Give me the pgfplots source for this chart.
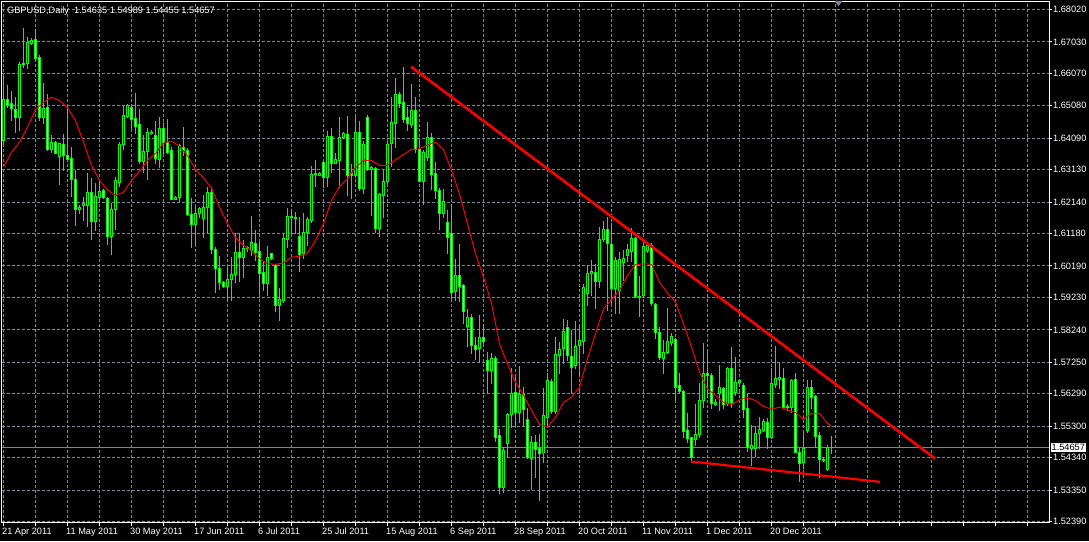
\documentclass[border=0pt]{standalone}
\usepackage{fontspec}
\setmainfont{Liberation Sans}
\usepackage{pgfplots}
\usepackage{pgfplotstable}
\pgfplotsset{compat=1.18}
\definecolor{mtlime}{HTML}{00FF00}
\definecolor{mtgrid}{HTML}{778899}
\definecolor{mtred}{HTML}{FF0000}
\newcommand{\mtfont}{\fontsize{9.2}{11}\selectfont}

% i open high low close
\pgfplotstableread{
i o h l c
0 1.6402 1.6598 1.6384 1.6527
1 1.6526 1.6570 1.6502 1.6509
2 1.6514 1.6552 1.6463 1.6499
3 1.6496 1.6534 1.6427 1.6473
4 1.6473 1.6641 1.6433 1.6634
5 1.6634 1.6743 1.6626 1.6637
6 1.6636 1.6718 1.6621 1.6702
7 1.6699 1.6713 1.6695 1.6707
8 1.6711 1.6740 1.6646 1.6652
9 1.6655 1.6662 1.6463 1.6471
10 1.6471 1.6575 1.6453 1.6499
11 1.6502 1.6543 1.6372 1.6374
12 1.6374 1.6417 1.6366 1.6395
13 1.6395 1.6400 1.6362 1.6363
14 1.6354 1.6394 1.6267 1.6392
15 1.6390 1.6420 1.6311 1.6356
16 1.6355 1.6501 1.6343 1.6345
17 1.6347 1.6382 1.6232 1.6282
18 1.6282 1.6311 1.6144 1.6191
19 1.6191 1.6204 1.6178 1.6197
20 1.6203 1.6227 1.6158 1.6211
21 1.6203 1.6300 1.6138 1.6242
22 1.6242 1.6285 1.6100 1.6156
23 1.6156 1.6270 1.6127 1.6231
24 1.6229 1.6282 1.6219 1.6246
25 1.6249 1.6252 1.6224 1.6227
26 1.6224 1.6229 1.6085 1.6110
27 1.6110 1.6209 1.6055 1.6191
28 1.6191 1.6290 1.6131 1.6280
29 1.6275 1.6397 1.6262 1.6390
30 1.6389 1.6509 1.6375 1.6478
31 1.6475 1.6512 1.6473 1.6509
32 1.6502 1.6512 1.6438 1.6465
33 1.6468 1.6545 1.6423 1.6446
34 1.6451 1.6496 1.6333 1.6339
35 1.6338 1.6417 1.6305 1.6368
36 1.6368 1.6438 1.6284 1.6426
37 1.6423 1.6433 1.6420 1.6427
38 1.6417 1.6460 1.6333 1.6346
39 1.6344 1.6471 1.6321 1.6438
40 1.6438 1.6455 1.6362 1.6397
41 1.6397 1.6465 1.6363 1.6366
42 1.6372 1.6382 1.6221 1.6223
43 1.6223 1.6232 1.6221 1.6229
44 1.6229 1.6389 1.6217 1.6386
45 1.6382 1.6441 1.6357 1.6372
46 1.6372 1.6377 1.6173 1.6175
47 1.6175 1.6224 1.6076 1.6145
48 1.6145 1.6198 1.6085 1.6178
49 1.6178 1.6198 1.6168 1.6195
50 1.6163 1.6235 1.6107 1.6198
51 1.6198 1.6260 1.6122 1.6244
52 1.6244 1.6255 1.6056 1.6068
53 1.6068 1.6076 1.5937 1.6010
54 1.6010 1.6048 1.5947 1.5968
55 1.5968 1.5972 1.5954 1.5957
56 1.5957 1.6015 1.5914 1.5978
57 1.5978 1.6046 1.5914 1.5993
58 1.5992 1.6117 1.5967 1.6060
59 1.6060 1.6117 1.5972 1.6046
60 1.6046 1.6097 1.5985 1.6071
61 1.6071 1.6079 1.6064 1.6074
62 1.6066 1.6170 1.6051 1.6090
63 1.6087 1.6127 1.6036 1.6061
64 1.6063 1.6092 1.5936 1.5995
65 1.5998 1.6031 1.5944 1.5966
66 1.5965 1.6079 1.5929 1.6044
67 1.6056 1.6058 1.6038 1.6043
68 1.6021 1.6024 1.5881 1.5898
69 1.5898 1.5949 1.5853 1.5917
70 1.5914 1.6117 1.5908 1.6102
71 1.6100 1.6194 1.6076 1.6170
72 1.6167 1.6183 1.6117 1.6170
73 1.6168 1.6183 1.6119 1.6165
74 1.6109 1.6168 1.6003 1.6054
75 1.6056 1.6178 1.6041 1.6122
76 1.6122 1.6168 1.6082 1.6160
77 1.6158 1.6323 1.6153 1.6298
78 1.6297 1.6341 1.6262 1.6300
79 1.6296 1.6305 1.6295 1.6302
80 1.6334 1.6336 1.6260 1.6288
81 1.6288 1.6431 1.6262 1.6414
82 1.6414 1.6438 1.6305 1.6333
83 1.6333 1.6363 1.6331 1.6343
84 1.6341 1.6473 1.6260 1.6410
85 1.6410 1.6426 1.6407 1.6424
86 1.6420 1.6475 1.6235 1.6295
87 1.6300 1.6329 1.6224 1.6294
88 1.6296 1.6471 1.6290 1.6426
89 1.6426 1.6460 1.6249 1.6255
90 1.6255 1.6400 1.6239 1.6390
91 1.6471 1.6478 1.6311 1.6314
92 1.6313 1.6323 1.6173 1.6321
93 1.6318 1.6319 1.6122 1.6134
94 1.6133 1.6241 1.6110 1.6237
95 1.6235 1.6311 1.6166 1.6276
96 1.6276 1.6397 1.6272 1.6390
97 1.6392 1.6533 1.6323 1.6456
98 1.6455 1.6591 1.6382 1.6543
99 1.6543 1.6550 1.6504 1.6516
100 1.6517 1.6624 1.6458 1.6465
101 1.6471 1.6504 1.6433 1.6453
102 1.6451 1.6573 1.6443 1.6494
103 1.6494 1.6533 1.6366 1.6374
104 1.6374 1.6402 1.6276 1.6278
105 1.6278 1.6372 1.6207 1.6366
106 1.6351 1.6458 1.6341 1.6410
107 1.6410 1.6423 1.6252 1.6297
108 1.6300 1.6336 1.6224 1.6249
109 1.6249 1.6255 1.6129 1.6180
110 1.6178 1.6252 1.6168 1.6216
111 1.6151 1.6188 1.6058 1.6107
112 1.6117 1.6207 1.5918 1.5939
113 1.5942 1.6039 1.5914 1.5989
114 1.5991 1.6084 1.5911 1.5957
115 1.5960 1.5963 1.5843 1.5881
116 1.5834 1.5885 1.5773 1.5861
117 1.5861 1.5871 1.5751 1.5777
118 1.5777 1.5802 1.5734 1.5763
119 1.5766 1.5869 1.5725 1.5800
120 1.5800 1.5839 1.5782 1.5787
121 1.5731 1.5756 1.5629 1.5700
122 1.5700 1.5751 1.5659 1.5736
123 1.5736 1.5743 1.5483 1.5496
124 1.5501 1.5519 1.5325 1.5344
125 1.5342 1.5466 1.5328 1.5456
126 1.5478 1.5569 1.5433 1.5566
127 1.5565 1.5705 1.5525 1.5631
128 1.5634 1.5680 1.5532 1.5573
129 1.5573 1.5712 1.5540 1.5627
130 1.5627 1.5649 1.5529 1.5581
131 1.5549 1.5583 1.5430 1.5433
132 1.5430 1.5498 1.5338 1.5481
133 1.5481 1.5501 1.5373 1.5458
134 1.5461 1.5504 1.5303 1.5446
135 1.5448 1.5644 1.5420 1.5561
136 1.5557 1.5690 1.5527 1.5669
137 1.5666 1.5671 1.5568 1.5574
138 1.5574 1.5802 1.5568 1.5748
139 1.5746 1.5786 1.5690 1.5765
140 1.5766 1.5855 1.5721 1.5819
141 1.5831 1.5853 1.5731 1.5745
142 1.5743 1.5822 1.5629 1.5710
143 1.5714 1.5850 1.5707 1.5773
144 1.5775 1.5832 1.5680 1.5792
145 1.5788 1.5962 1.5751 1.5952
146 1.5934 1.6020 1.5898 1.5997
147 1.5997 1.6036 1.5929 1.6003
148 1.6000 1.6023 1.5889 1.5973
149 1.5973 1.6136 1.5952 1.6099
150 1.6099 1.6156 1.6095 1.6129
151 1.6129 1.6166 1.5883 1.6087
152 1.6085 1.6148 1.5904 1.5949
153 1.5949 1.6046 1.5873 1.6036
154 1.5944 1.6061 1.5875 1.6038
155 1.6031 1.6066 1.5975 1.6041
156 1.6051 1.6085 1.6034 1.6068
157 1.6064 1.6133 1.6033 1.6102
158 1.6102 1.6107 1.5924 1.5927
159 1.5924 1.5987 1.5865 1.5927
160 1.5929 1.6092 1.5922 1.6079
161 1.6066 1.6092 1.6061 1.6082
162 1.6082 1.6087 1.5898 1.5904
163 1.5901 1.5904 1.5799 1.5815
164 1.5815 1.5830 1.5734 1.5738
165 1.5736 1.5792 1.5690 1.5754
166 1.5756 1.5888 1.5751 1.5789
167 1.5786 1.5814 1.5776 1.5805
168 1.5795 1.5797 1.5608 1.5649
169 1.5654 1.5692 1.5634 1.5637
170 1.5636 1.5639 1.5494 1.5515
171 1.5517 1.5568 1.5481 1.5491
172 1.5494 1.5496 1.5420 1.5435
173 1.5488 1.5596 1.5471 1.5505
174 1.5504 1.5659 1.5496 1.5608
175 1.5608 1.5782 1.5588 1.5690
176 1.5690 1.5761 1.5618 1.5684
177 1.5685 1.5690 1.5583 1.5598
178 1.5595 1.5610 1.5593 1.5603
179 1.5629 1.5715 1.5578 1.5647
180 1.5644 1.5649 1.5583 1.5595
181 1.5598 1.5710 1.5593 1.5707
182 1.5707 1.5769 1.5588 1.5603
183 1.5634 1.5741 1.5624 1.5662
184 1.5662 1.5671 1.5659 1.5669
185 1.5654 1.5659 1.5557 1.5580
186 1.5583 1.5629 1.5454 1.5466
187 1.5461 1.5532 1.5410 1.5471
188 1.5461 1.5529 1.5437 1.5507
189 1.5507 1.5556 1.5461 1.5519
190 1.5517 1.5549 1.5515 1.5545
191 1.5542 1.5552 1.5463 1.5494
192 1.5494 1.5705 1.5491 1.5659
193 1.5657 1.5773 1.5649 1.5675
194 1.5672 1.5725 1.5644 1.5678
195 1.5675 1.5705 1.5586 1.5588
196 1.5590 1.5595 1.5578 1.5586
197 1.5586 1.5671 1.5573 1.5669
198 1.5671 1.5692 1.5448 1.5451
199 1.5451 1.5461 1.5362 1.5417
200 1.5420 1.5515 1.5400 1.5461
201 1.5517 1.5669 1.5512 1.5647
202 1.5647 1.5669 1.5583 1.5618
203 1.5620 1.5623 1.5466 1.5498
204 1.5501 1.5512 1.5372 1.5427
205 1.5427 1.5435 1.5422 1.5425
206 1.5397 1.5471 1.5395 1.5466
207 1.54635 1.54989 1.54455 1.54657
}\candles

% moving average
\pgfplotstableread{
i v
0 1.6321
2 1.6366
4 1.6397
6 1.6443
8 1.6496
10 1.6519
12 1.6534
14 1.6524
16 1.6502
18 1.6463
20 1.6397
22 1.6326
24 1.6280
26 1.6251
28 1.6234
30 1.6244
32 1.6280
34 1.6308
36 1.6341
38 1.6362
40 1.6394
42 1.6400
44 1.6385
46 1.6356
48 1.6313
50 1.6288
52 1.6257
54 1.6198
56 1.6148
58 1.6105
60 1.6082
62 1.6066
64 1.6041
66 1.6026
68 1.6024
70 1.6028
72 1.6046
74 1.6048
76 1.6058
78 1.6097
80 1.6148
82 1.6219
84 1.6262
86 1.6285
88 1.6319
90 1.6341
92 1.6341
94 1.6326
96 1.6326
98 1.6343
100 1.6359
102 1.6375
104 1.6377
106 1.6388
108 1.6397
110 1.6374
112 1.6311
114 1.6239
116 1.6148
118 1.6056
120 1.5985
122 1.5904
124 1.5781
126 1.5720
128 1.5664
130 1.5624
132 1.5578
134 1.5535
136 1.5527
138 1.5557
140 1.5603
142 1.5618
144 1.5649
146 1.5736
148 1.5812
150 1.5888
152 1.5916
154 1.5944
156 1.5990
158 1.6023
160 1.6026
162 1.6024
164 1.5970
166 1.5936
168 1.5909
170 1.5842
172 1.5771
174 1.5695
176 1.5644
178 1.5624
180 1.5603
182 1.5595
184 1.5610
186 1.5617
188 1.5608
190 1.5590
192 1.5582
194 1.5588
196 1.5580
198 1.5571
200 1.5551
202 1.5569
204 1.5568
206 1.5539
207 1.5529
}\matable

\begin{document}
\begin{tikzpicture}
\path[use as bounding box, fill=black] (-1.5pt,-18.5pt) rectangle (1087.5pt,522.5pt);
\begin{axis}[
  scale only axis, width=1048pt, height=521pt,
  xmin=-0.5, xmax=261.5, ymin=1.52358, ymax=1.68264,
  axis background/.style={fill=black},
  axis line style={white, line width=1pt},
  grid=major,
  major grid style={mtgrid, line width=1pt, dash pattern=on 3pt off 2pt},
  xtick={0,8,...,256},
  xticklabels={21 Apr 2011,,11 May 2011,,30 May 2011,,17 Jun 2011,,6 Jul 2011,,25 Jul 2011,,15 Aug 2011,,6 Sep 2011,,28 Sep 2011,,20 Oct 2011,,11 Nov 2011,,1 Dec 2011,,20 Dec 2011,,,,,,,,},
  ytick={1.52390,1.53350,1.54340,1.55300,1.56290,1.57250,1.58240,1.59230,1.60190,1.61180,1.62140,1.63130,1.64090,1.65080,1.66070,1.67030,1.68020},
  yticklabels={1.52390,1.53350,1.54340,1.55300,1.56290,1.57250,1.58240,1.59230,1.60190,1.61180,1.62140,1.63130,1.64090,1.65080,1.66070,1.67030,1.68020},
  xtick pos=lower, ytick pos=upper, yticklabel pos=upper,
  tick align=outside, major tick length=3pt,
  tick style={white, line width=1pt},
  tick label style={white, font=\mtfont},
  xticklabel style={anchor=north west, inner sep=0pt, xshift=-1.5pt, yshift=-2pt},
  yticklabel style={anchor=west, inner sep=0pt, xshift=0.5pt},
  candle/.style={draw=none, mark=none, forget plot,
    error bars/.cd, y dir=plus, y explicit, error mark=none},
]
% current price line
\addplot[mtgrid, line width=1pt, forget plot] coordinates {(-0.5,1.54657) (261.5,1.54657)};
% wicks
\addplot[candle, error bar style={draw=mtlime, line width=1.25pt, solid}]
  table[x=i, y expr={\thisrow{l}-0.00015}, y error expr={\thisrow{h}-\thisrow{l}+0.0003}] {\candles};
% body outline
\addplot[candle, error bar style={draw=mtlime, line width=3pt, solid}]
  table[x=i, y expr={min(\thisrow{o},\thisrow{c})-0.00015}, y error expr={abs(\thisrow{c}-\thisrow{o})+0.0003}] {\candles};
% bull body interior (black)
\addplot[candle, error bar style={draw=black, line width=1pt, solid}]
  table[x=i, y expr={\thisrow{o}+0.00015}, y error expr={max(\thisrow{c}-\thisrow{o}-0.0003,0)}] {\candles};
% bear body interior (white)
\addplot[candle, error bar style={draw=white, line width=1pt, solid}]
  table[x=i, y expr={\thisrow{c}+0.00015}, y error expr={max(\thisrow{o}-\thisrow{c}-0.0003,0)}] {\candles};
% moving average
\addplot[mtred, line width=1pt, forget plot] table[x=i, y=v] {\matable};
% trend lines
\addplot[mtred, line width=2.6pt, forget plot] coordinates {(101.9,1.6627) (232.9,1.5431)};
\addplot[mtred, line width=2.2pt, forget plot] coordinates {(171.9,1.5422) (219.1,1.5360)};
\coordinate (cp) at (axis cs:261.5,1.54657);
\end{axis}
\node[fill=white, text=black, anchor=west, inner xsep=1pt, inner ysep=1.2pt, font=\mtfont] at ([xshift=1pt]cp) {1.54657};
\node[anchor=west, text=white, inner sep=0pt, font=\mtfont] at (5.5pt,511pt) {GBPUSD,Daily\hspace{5pt}1.54635 1.54989 1.54455 1.54657};
\fill[mtgrid] (833pt,521.5pt) -- (841pt,521.5pt) -- (837pt,516.5pt) -- cycle;
\end{tikzpicture}
\end{document}
